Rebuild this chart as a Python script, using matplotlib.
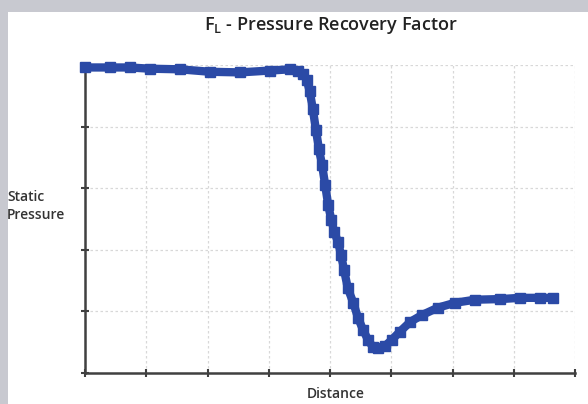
import matplotlib.pyplot as plt
from matplotlib.patches import Rectangle

distance = [0.00, 0.41, 0.73, 1.06, 1.55, 2.04, 2.53, 3.02, 3.35, 3.48, 3.56, 3.62,
            3.67, 3.72, 3.77, 3.82, 3.87, 3.92, 3.97, 4.02, 4.07, 4.13, 4.18, 4.23,
            4.29, 4.38, 4.46, 4.54, 4.62, 4.70, 4.78, 4.90, 5.01, 5.14, 5.31, 5.50,
            5.76, 6.04, 6.37, 6.78, 7.10, 7.43, 7.64]
pressure = [4.96, 4.96, 4.96, 4.94, 4.93, 4.89, 4.88, 4.91, 4.93, 4.91, 4.86, 4.76,
            4.57, 4.28, 3.95, 3.63, 3.38, 3.06, 2.73, 2.49, 2.29, 2.13, 1.92, 1.67,
            1.38, 1.14, 0.89, 0.70, 0.54, 0.42, 0.41, 0.44, 0.54, 0.67, 0.83, 0.94,
            1.06, 1.14, 1.19, 1.20, 1.22, 1.22, 1.22]

plt.rcParams['font.family'] = ['Open Sans', 'DejaVu Sans']

fig = plt.figure(figsize=(5.88, 4.04), dpi=100)
fig.patch.set_facecolor('#c8c9d0')
fig.patches.append(Rectangle((8 / 588, 0), 1, 392 / 404, transform=fig.transFigure,
                             facecolor='white', edgecolor='none', zorder=-5))

ax = fig.add_axes([85 / 588, 31 / 404, 490 / 588, 308 / 404])
ax.set_zorder(2)
ax.set_facecolor('none')
ax.plot(distance, pressure, color='#2b4aa6', linewidth=6, marker='s',
        markersize=6.5, solid_capstyle='butt', clip_on=False, zorder=3)

ax.set_xlim(0, 8)
ax.set_ylim(0, 5)
ax.set_xticks(range(0, 9))
ax.set_yticks(range(0, 6))
ax.set_xticklabels([])
ax.set_yticklabels([])
ax.tick_params(direction='inout', length=6, width=1.5, color='#404040')
ax.grid(True, color='#d8d8d8', linestyle=(0, (2, 2)), linewidth=0.9)
for side in ['top', 'right']:
    ax.spines[side].set_visible(False)
for side in ['left', 'bottom']:
    ax.spines[side].set_color('#404040')
    ax.spines[side].set_linewidth(1.8)

fig.text(331 / 588, 1 - 25 / 404, r'F$_\mathregular{L}$ - Pressure Recovery Factor',
         ha='center', va='center', fontsize=13, color='#222222', fontweight='semibold')
fig.text(7 / 588, 1 - 206 / 404, 'Static\nPressure', ha='left', va='center',
         fontsize=10, color='#333333', linespacing=1.45, fontweight='semibold')
fig.text(336 / 588, 1 - 394 / 404, 'Distance', ha='center', va='center',
         fontsize=10, color='#333333', fontweight='semibold')

fig.savefig('out.png', dpi=100)
